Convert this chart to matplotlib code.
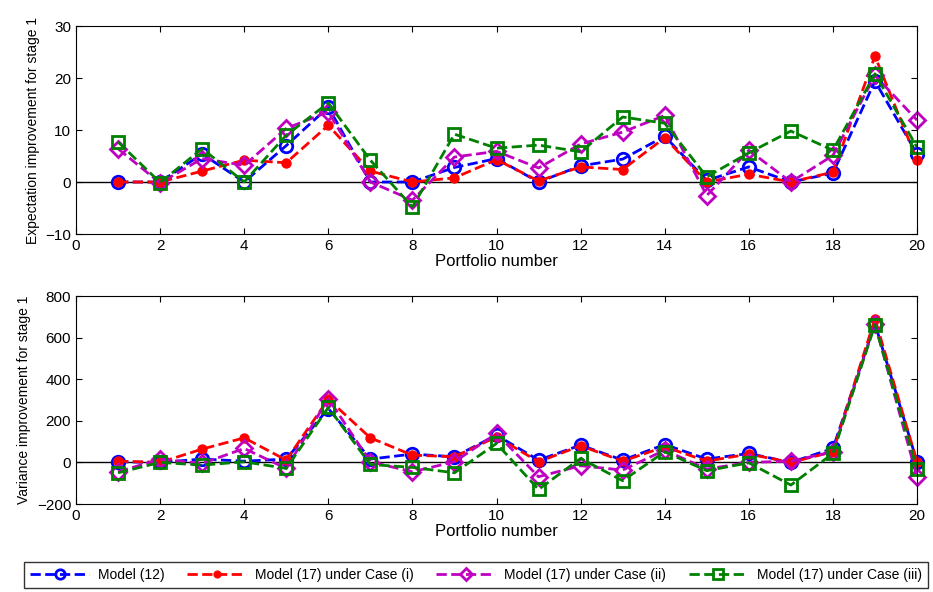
import numpy as np
import matplotlib.pyplot as plt

portfolios = np.arange(1, 21)

# stage 1 expectation improvement
exp_m12 = [0, 0, 5.4, 0, 7.0, 14.4, 0, 0, 2.8, 4.5, 0, 3.1, 4.4, 8.8, 0.3, 2.9, 0, 1.7, 19.4, 5.4]
exp_i = [0, 0, 2.1, 4.2, 3.7, 10.9, 2.1, 0, 0.8, 4.3, 0.2, 2.9, 2.4, 8.5, 0, 1.5, 0, 1.9, 24.2, 4.2]
exp_ii = [6.4, -0.2, 4.5, 3.2, 10.3, 13.5, 0, -3.5, 4.8, 5.9, 2.7, 7.3, 9.6, 12.8, -2.6, 6.1, 0, 5.1, 20.5, 11.9]
exp_iii = [7.7, -0.1, 6.4, 0, 9.0, 15.2, 4.2, -4.8, 9.2, 6.5, 7.1, 5.8, 12.5, 11.3, 1.0, 5.6, 9.8, 6.1, 20.8, 6.7]

# stage 1 variance improvement
var_m12 = [3, 0, 16, 6, 16, 259, 16, 40, 27, 131, 11, 83, 11, 86, 16, 43, 0, 67, 667, 3]
var_i = [6, 0, 64, 118, 11, 304, 118, 35, 27, 123, 3, 80, 6, 75, 6, 40, 0, 51, 691, 3]
var_ii = [-45, 15, -5, 67, -29, 307, 3, -45, 3, 139, -69, -16, -37, 59, -32, 0, 6, 51, 667, -69]
var_iii = [-50, 0, -13, 3, -29, 264, -10, -24, -50, 91, -130, 19, -88, 51, -40, -2, -109, 43, 662, -34]

labels = ['Model (12)', 'Model (17) under Case (i)', 'Model (17) under Case (ii)', 'Model (17) under Case (iii)']

plt.rcParams['font.family'] = ['Liberation Sans', 'DejaVu Sans']

fig = plt.figure(figsize=(9.33, 5.92), dpi=100)
W, H = 933.0, 592.0
ax1 = fig.add_axes([76 / W, 1 - 234 / H, (917 - 76) / W, (234 - 26) / H])
ax2 = fig.add_axes([76 / W, 1 - 504 / H, (917 - 76) / W, (504 - 296) / H])

def draw(ax, a, b, c, d):
    ax.axhline(0, color='black', lw=1)
    h1, = ax.plot(portfolios, a, '--', color='blue', lw=2, marker='o', ms=9, mfc='none', mew=2, clip_on=False)
    h2, = ax.plot(portfolios, b, '--', color='red', lw=2, marker='o', ms=6.5, mfc='red', mec='red', clip_on=False)
    h3, = ax.plot(portfolios, c, '--', color='#c000c0', lw=2, marker='D', ms=8, mfc='none', mew=2, clip_on=False)
    h4, = ax.plot(portfolios, d, '--', color='green', lw=2, marker='s', ms=9, mfc='none', mew=2, clip_on=False)
    ax.set_xlim(0, 20)
    ax.set_xticks(range(0, 21, 2))
    ax.tick_params(direction='in', top=True, right=True, labelsize=11, length=4)
    ax.set_xlabel('Portfolio number', fontsize=12, labelpad=1)
    return [h1, h2, h3, h4]

draw(ax1, exp_m12, exp_i, exp_ii, exp_iii)
ax1.set_ylim(-10, 30)
ax1.set_yticks([-10, 0, 10, 20, 30])
ax1.set_ylabel('Expectation improvement for stage 1', fontsize=10)

handles = draw(ax2, var_m12, var_i, var_ii, var_iii)
ax2.set_ylim(-200, 800)
ax2.set_yticks(range(-200, 801, 200))
ax2.set_ylabel('Variance improvement for stage 1', fontsize=10)

leg = fig.legend(handles, labels, loc='center', bbox_to_anchor=(476 / W, 1 - 575 / H), ncol=4,
                 fontsize=10, frameon=True, fancybox=False, edgecolor='black', markerscale=0.75,
                 handlelength=4.2, columnspacing=1.6, handletextpad=0.7, borderpad=0.45)
leg.get_frame().set_linewidth(1)

plt.savefig('out.png', dpi=100)
